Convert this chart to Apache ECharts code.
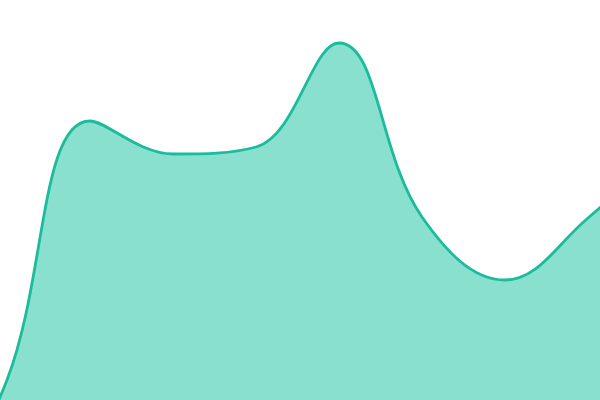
<!DOCTYPE html>
<html><head><meta charset="utf-8">
<script src="https://cdn.jsdelivr.net/npm/echarts@6/dist/echarts.min.js"></script>
<style>html,body{margin:0;padding:0;background:#fff;width:600px;height:400px;overflow:hidden;position:relative}#c{position:absolute;left:-76px;top:0;width:747px;height:400px}</style>
</head><body><div id="c"></div>
<script>
var categories = ['1','2','3','4','5','6','7','8','9','10'];
var values = [-150, 20, 279, 246, 253, 357, 183, 120, 182, 260];
var chart = echarts.init(document.getElementById('c'));
chart.setOption({
  animation: false,
  grid: {left: 0, right: 0, top: 0, bottom: 0},
  xAxis: {type: 'category', data: categories, boundaryGap: false, show: false},
  yAxis: {type: 'value', min: 0, max: 400, show: false},
  series: [{
    type: 'line',
    data: values,
    smooth: 0.4,
    symbol: 'none',
    lineStyle: {color: '#1abc9c', width: 2.8},
    areaStyle: {color: '#89e0cf', opacity: 1, origin: 'start'}
  }]
});
</script></body></html>
